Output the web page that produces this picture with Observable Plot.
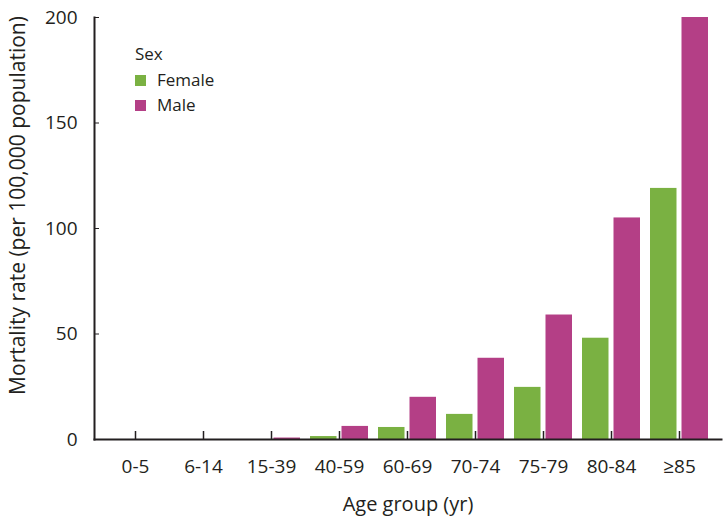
<!DOCTYPE html>
<html><head><meta charset="utf-8">
<script src="https://cdn.jsdelivr.net/npm/d3@7"></script>
<script src="https://cdn.jsdelivr.net/npm/@observablehq/plot@0.6"></script>
<style>
body{margin:0;background:#fff;}
#wrap{position:relative;width:727px;height:527px;font-family:"Open Sans",sans-serif;color:#231f20;}
#legend{position:absolute;left:135px;top:41px;font-size:17px;}
.row{position:relative;height:25.5px;line-height:25.5px;white-space:nowrap;}
.sw{position:absolute;left:0;top:8px;width:11px;height:11px;}
.lab{position:absolute;left:22px;top:0;}
</style></head><body>
<div id="wrap"></div>
<script>
const ageGroups = ["0-5","6-14","15-39","40-59","60-69","70-74","75-79","80-84","≥85"];
const female = [0, 0, 0, 1.4, 5.7, 11.9, 24.7, 48, 119];
const male = [0, 0, 0.7, 6.2, 20, 38.5, 59, 105, 200];
const sexes = ["Female", "Male"];
const colors = ["#7ab142", "#b43f86"];
const yTicks = [0, 50, 100, 150, 200];
const xTitle = "Age group (yr)";
const yTitle = "Mortality rate (per 100,000 population)";
const legendTitle = "Sex";

const rows = ageGroups.flatMap((g, i) => [
  {group: g, sex: sexes[0], rate: female[i]},
  {group: g, sex: sexes[1], rate: male[i]}
]);

const chart = Plot.plot({
  width: 727, height: 527,
  marginTop: 17, marginBottom: 88, marginLeft: 94, marginRight: 6,
  style: {fontFamily: "Open Sans", fontSize: "19px", color: "#231f20", background: "transparent"},
  x: {domain: ageGroups, paddingInner: 0.14, paddingOuter: 0.173},
  y: {domain: [0, 200], ticks: yTicks},
  color: {domain: sexes, range: colors},
  marks: [
    Plot.barY(rows.filter(d => d.sex === sexes[0]), {x: "group", y: "rate", fill: "sex", insetRight: 31.5}),
    Plot.barY(rows.filter(d => d.sex === sexes[1]), {x: "group", y: "rate", fill: "sex", insetLeft: 31.5}),
    Plot.axisX({tickSize: -8, tickPadding: 28, strokeWidth: 1.5, label: null}),
    Plot.axisY({ticks: yTicks, tickSize: -5, tickPadding: 22, label: null}),
    Plot.text([xTitle], {frameAnchor: "bottom", dy: 71, fontSize: 20, fill: "#231f20"}),
    Plot.text([yTitle], {frameAnchor: "left", textAnchor: "middle", rotate: -90, dx: -76, dy: -23, fontSize: 21, fill: "#231f20"}),
    Plot.frame({anchor: "bottom", strokeWidth: 2, stroke: "#231f20"}),
    Plot.frame({anchor: "left", strokeWidth: 2, stroke: "#231f20"})
  ]
});
const wrap = document.getElementById("wrap");
wrap.appendChild(chart);

const legend = document.createElement("div");
legend.id = "legend";
const t = document.createElement("div");
t.className = "row";
t.textContent = legendTitle;
legend.appendChild(t);
sexes.forEach((s, i) => {
  const r = document.createElement("div");
  r.className = "row";
  const sw = document.createElement("span");
  sw.className = "sw";
  sw.style.background = colors[i];
  const lb = document.createElement("span");
  lb.className = "lab";
  lb.textContent = s;
  r.appendChild(sw); r.appendChild(lb);
  legend.appendChild(r);
});
wrap.appendChild(legend);
</script>
</body></html>
